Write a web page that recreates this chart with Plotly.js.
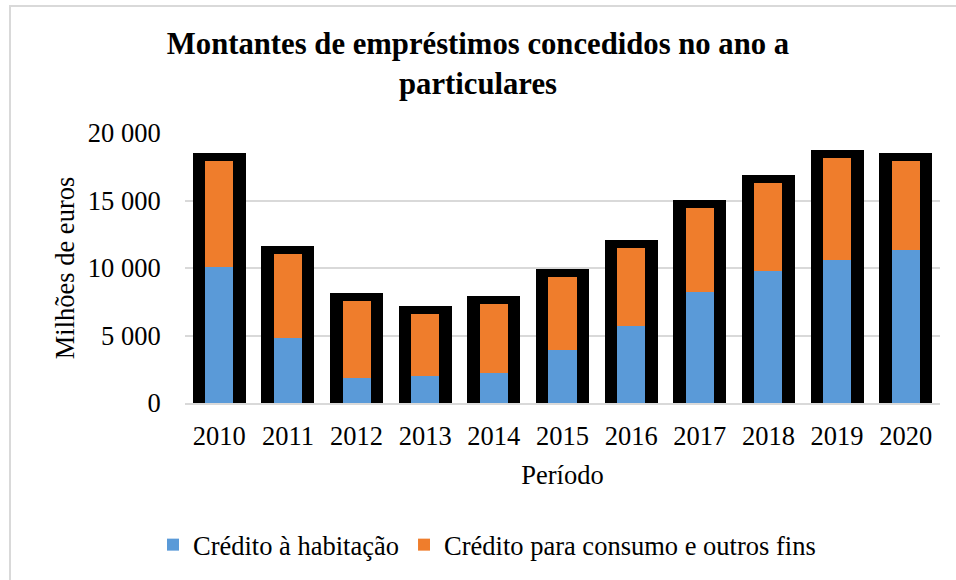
<!DOCTYPE html>
<html>
<head>
<meta charset="utf-8">
<script src="https://cdn.plot.ly/plotly-3.0.1.min.js"></script>
<style>
  html, body { margin: 0; padding: 0; background: #fff; }
  #wrap { position: relative; width: 956px; height: 580px; overflow: hidden; }
  #chart { width: 956px; height: 580px; }
  #frame { position: absolute; left: 9px; top: 5px; width: 1000px; height: 700px; border: 2px solid #d9d9d9; pointer-events: none; }
</style>
</head>
<body>
<div id="wrap">
  <div id="chart"></div>
  <div id="frame"></div>
</div>
<script>
const years = ['2010','2011','2012','2013','2014','2015','2016','2017','2018','2019','2020'];
const habitacao = [10070, 4800, 1850, 1990, 2220, 3910, 5690, 8200, 9750, 10560, 11300];
const consumo   = [7880, 6230, 5680, 4580, 5090, 5400, 5760, 6280, 6570, 7610, 6650];
const seriesNames = ['Crédito à habitação', 'Crédito para consumo e outros fins'];
const totals = habitacao.map((v, i) => v + consumo[i]);

const FONT = 'Liberation Serif, Times New Roman, serif';
const FS = 26.5;

const traces = [
  {
    type: 'bar', x: years, y: totals, xaxis: 'x', yaxis: 'y',
    width: 0.54, showlegend: false, hoverinfo: 'skip',
    marker: { color: '#000000', line: { color: '#000000', width: 16 } }
  },
  {
    type: 'bar', name: seriesNames[0], x: years, y: habitacao, xaxis: 'x2', yaxis: 'y',
    width: 0.41, marker: { color: '#5a9ad8', line: { width: 0 } }
  },
  {
    type: 'bar', name: seriesNames[1], x: years, y: consumo, xaxis: 'x2', yaxis: 'y',
    width: 0.41, marker: { color: '#ef7d2c', line: { width: 0 } }
  }
];

const layout = {
  width: 956, height: 580,
  paper_bgcolor: '#ffffff', plot_bgcolor: '#ffffff',
  barmode: 'stack',
  separators: ', ',
  font: { family: FONT, size: FS, color: '#000000' },
  margin: { l: 185, r: 16, t: 133, b: 176 },
  title: {
    text: '<b>Montantes de empréstimos concedidos no ano a<br>particulares</b>',
    font: { family: FONT, size: 30.7, color: '#000000' },
    x: 0.5, xanchor: 'center', xref: 'container',
    y: 1 - 54 / 580, yanchor: 'top', yref: 'container'
  },
  xaxis: {
    type: 'category', range: [-0.5, 10.5],
    showgrid: false, zeroline: false,
    showline: true, linecolor: '#d9d9d9', linewidth: 2,
    ticks: 'outside', ticklen: 8, tickcolor: 'rgba(0,0,0,0)',
    tickfont: { family: FONT, size: FS, color: '#000000' },
    title: { text: 'Período', font: { family: FONT, size: FS, color: '#000000' }, standoff: 16 }
  },
  xaxis2: {
    type: 'category', overlaying: 'x', range: [-0.5, 10.5],
    visible: false, showgrid: false, zeroline: false
  },
  yaxis: {
    range: [0, 20000], dtick: 5000, tickformat: ',d',
    showgrid: true, gridcolor: '#d9d9d9', gridwidth: 2,
    zeroline: false, showline: false,
    ticks: 'outside', ticklen: 18, tickcolor: 'rgba(0,0,0,0)',
    tickfont: { family: FONT, size: FS, color: '#000000' },
    title: { text: 'Milhões de euros', font: { family: FONT, size: FS, color: '#000000' }, standoff: 5 }
  },
  legend: {
    orientation: 'h', x: 0.40, xanchor: 'center', y: -0.52, yanchor: 'middle',
    font: { family: FONT, size: FS, color: '#000000' },
    itemwidth: 30, traceorder: 'normal'
  },
  showlegend: true
};

Plotly.newPlot('chart', traces, layout, { displayModeBar: false, staticPlot: true });
</script>
</body>
</html>
